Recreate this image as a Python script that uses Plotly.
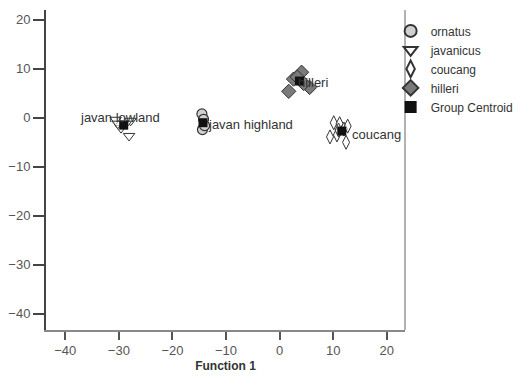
import plotly.graph_objects as go

# Data (discriminant function scores)
ornatus_x = [-14.5, -14.2, -14.4, -14.0]
ornatus_y = [0.8, -0.3, -2.4, -1.6]

javanicus_x = [-30.6, -27.8, -28.1, -29.6, -28.7, -30.2]
javanicus_y = [-0.4, -0.6, -3.7, -2.1, -1.2, -1.2]

coucang_x = [10.1, 11.2, 9.4, 10.7, 12.0, 12.4, 12.7, 11.0]
coucang_y = [-1.0, -1.2, -3.9, -3.5, -2.3, -5.0, -1.7, -2.5]

hilleri_x = [4.1, 2.6, 1.7, 5.6, 3.3, 4.5]
hilleri_y = [9.3, 7.9, 5.4, 6.2, 8.3, 7.0]

centroid_names = ["javan lowland", "javan highland", "hilleri", "coucang"]
centroid_x = [-29.1, -14.3, 3.7, 11.6]
centroid_y = [-1.5, -1.0, 7.5, -2.7]

x_ticks = [-40, -30, -20, -10, 0, 10, 20]
y_ticks = [20, 10, 0, -10, -20, -30, -40]

FONT = "Liberation Sans, Arial, sans-serif"

fig = go.Figure()
fig.add_trace(go.Scatter(x=ornatus_x, y=ornatus_y, mode="markers", name="ornatus",
                         marker=dict(symbol="circle", size=10, color="#d0d0d0",
                                     line=dict(color="#333333", width=1.2))))
fig.add_trace(go.Scatter(x=javanicus_x, y=javanicus_y, mode="markers", name="javanicus",
                         marker=dict(symbol="triangle-down", size=10, color="rgba(255,255,255,0.6)",
                                     line=dict(color="#333333", width=1))))
fig.add_trace(go.Scatter(x=coucang_x, y=coucang_y, mode="markers", name="coucang",
                         marker=dict(symbol="diamond-tall", size=10, color="rgba(255,255,255,0.6)",
                                     line=dict(color="#333333", width=1))))
fig.add_trace(go.Scatter(x=hilleri_x, y=hilleri_y, mode="markers", name="hilleri",
                         marker=dict(symbol="diamond", size=11, color="#7a7a7a",
                                     line=dict(color="#333333", width=1))))
fig.add_trace(go.Scatter(x=centroid_x, y=centroid_y, mode="markers", name="Group Centroid",
                         marker=dict(symbol="square", size=9, color="#111111",
                                     line=dict(color="#111111", width=0))))

# centroid labels
offsets = {
    "javan lowland": dict(xanchor="center", xshift=-4, yshift=8),
    "javan highland": dict(xanchor="left", xshift=3, yshift=-2),
    "hilleri": dict(xanchor="left", xshift=-3, yshift=-1),
    "coucang": dict(xanchor="left", xshift=8, yshift=-3),
}
for n, cx, cy in zip(centroid_names, centroid_x, centroid_y):
    fig.add_annotation(x=cx, y=cy, text=n, showarrow=False, yanchor="middle",
                       font=dict(family=FONT, size=13, color="#333333"), **offsets[n])

fig.add_shape(type="line", xref="paper", yref="paper", x0=1, x1=1, y0=0, y1=1,
              line=dict(color="#999999", width=1.5))

# the page body adds an 8px offset, so the figure is sized 520x368
fig.update_layout(
    width=520, height=368,
    margin=dict(l=38, r=123, t=2, b=46),
    paper_bgcolor="white", plot_bgcolor="white",
    font=dict(family=FONT, color="#444444"),
    showlegend=True,
    legend=dict(x=0.96, y=0.98, xanchor="left", yanchor="top",
                font=dict(family=FONT, size=12, color="#333333"),
                bgcolor="rgba(0,0,0,0)", tracegroupgap=0, itemsizing="constant"),
    xaxis=dict(range=[-43.6, 23.4], tickvals=x_ticks, ticks="outside", ticklen=8,
               tickcolor="#555555", tickwidth=1.5, showgrid=False, zeroline=False,
               showline=True, linecolor="#888888", linewidth=1.5, automargin=False,
               tickfont=dict(family=FONT, size=13, color="#555555"),
               title=dict(text="<b>Function 1</b>", standoff=4,
                          font=dict(family=FONT, size=12, color="#333333"))),
    yaxis=dict(range=[-43.3, 22.0], tickvals=y_ticks, ticks="outside", ticklen=11,
               tickcolor="#444444", tickwidth=1.5, showgrid=False, zeroline=False,
               showline=True, linecolor="#444444", linewidth=2, automargin=False,
               tickfont=dict(family=FONT, size=13, color="#555555")),
)

fig.write_html("out.html")
